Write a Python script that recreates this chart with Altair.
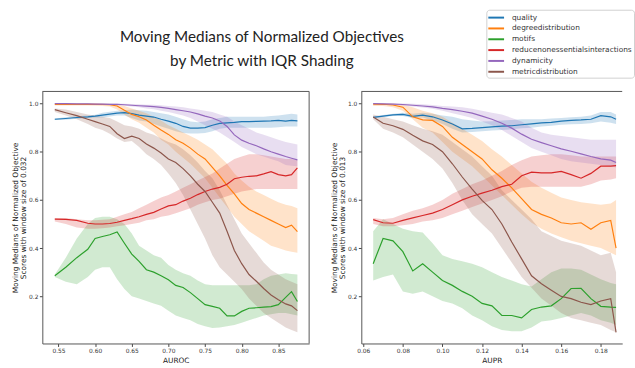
import altair as alt
import pandas as pd

metrics = ["quality", "degreedistribution", "motifs",
           "reducenonessentialsinteractions", "dynamicity", "metricdistribution"]
colors = ["#1f77b4", "#ff7f0e", "#2ca02c", "#d62728", "#9467bd", "#8c564b"]

title_text = "Moving Medians of Normalized Objectives\nby Metric with IQR Shading"

# ---------------- AUROC panel ----------------
auroc_x = [0.545, 0.56, 0.575, 0.59, 0.60, 0.61, 0.62, 0.63, 0.64, 0.65, 0.66, 0.67, 0.68,
           0.69, 0.70, 0.71, 0.72, 0.73, 0.74, 0.75, 0.76, 0.77, 0.78, 0.79, 0.80, 0.81,
           0.82, 0.83, 0.84, 0.85, 0.86, 0.868, 0.876]

auroc_quality_med = [0.935, 0.938, 0.942, 0.945, 0.948, 0.952, 0.956, 0.96, 0.962, 0.958, 0.952, 0.948, 0.944,
                     0.935, 0.927, 0.918, 0.905, 0.898, 0.898, 0.90, 0.91, 0.918, 0.92, 0.922, 0.925, 0.925,
                     0.926, 0.927, 0.928, 0.93, 0.927, 0.93, 0.928]
auroc_quality_lo = [0.932, 0.933, 0.937, 0.94, 0.942, 0.942, 0.946, 0.95, 0.95, 0.94, 0.93, 0.925, 0.915,
                    0.905, 0.895, 0.885, 0.878, 0.876, 0.876, 0.878, 0.885, 0.895, 0.90, 0.90, 0.90, 0.90,
                    0.90, 0.90, 0.90, 0.902, 0.905, 0.905, 0.905]
auroc_quality_hi = [0.938, 0.943, 0.947, 0.95, 0.954, 0.962, 0.966, 0.97, 0.972, 0.975, 0.972, 0.97, 0.965,
                    0.96, 0.955, 0.945, 0.935, 0.925, 0.922, 0.925, 0.935, 0.94, 0.945, 0.945, 0.945, 0.945,
                    0.945, 0.945, 0.948, 0.95, 0.955, 0.958, 0.955]

auroc_degree_med = [0.997, 0.997, 0.997, 0.997, 0.997, 0.996, 0.995, 0.99, 0.972, 0.955, 0.945, 0.932, 0.91,
                    0.89, 0.872, 0.85, 0.835, 0.815, 0.79, 0.77, 0.735, 0.70, 0.66, 0.625, 0.585, 0.56,
                    0.545, 0.53, 0.515, 0.50, 0.485, 0.495, 0.468]
auroc_degree_lo = [0.992, 0.992, 0.992, 0.992, 0.991, 0.99, 0.988, 0.975, 0.955, 0.935, 0.92, 0.90, 0.88,
                   0.85, 0.83, 0.80, 0.775, 0.75, 0.72, 0.69, 0.65, 0.61, 0.57, 0.53, 0.50, 0.47,
                   0.45, 0.43, 0.41, 0.40, 0.39, 0.385, 0.38]
auroc_degree_hi = [1.0, 1.0, 1.0, 1.0, 1.0, 1.0, 0.999, 0.997, 0.99, 0.98, 0.97, 0.96, 0.945,
                   0.93, 0.91, 0.895, 0.88, 0.865, 0.85, 0.83, 0.81, 0.78, 0.75, 0.71, 0.68, 0.655,
                   0.635, 0.62, 0.605, 0.59, 0.58, 0.575, 0.565]

auroc_motifs_med = [0.285, 0.32, 0.36, 0.395, 0.44, 0.448, 0.455, 0.467, 0.42, 0.375, 0.345, 0.31, 0.30,
                    0.285, 0.268, 0.245, 0.236, 0.215, 0.19, 0.165, 0.158, 0.15, 0.118, 0.118, 0.137, 0.15,
                    0.152, 0.155, 0.157, 0.165, 0.195, 0.219, 0.178]
auroc_motifs_lo = [0.28, 0.26, 0.25, 0.28, 0.31, 0.32, 0.32, 0.27, 0.23, 0.20, 0.19, 0.18, 0.17,
                   0.16, 0.14, 0.12, 0.11, 0.10, 0.085, 0.075, 0.068, 0.07, 0.075, 0.08, 0.09, 0.10,
                   0.11, 0.12, 0.125, 0.13, 0.13, 0.125, 0.12]
auroc_motifs_hi = [0.29, 0.36, 0.44, 0.50, 0.525, 0.53, 0.53, 0.52, 0.50, 0.46, 0.41, 0.39, 0.37,
                   0.36, 0.33, 0.31, 0.295, 0.285, 0.265, 0.25, 0.245, 0.245, 0.245, 0.245, 0.245, 0.245,
                   0.25, 0.27, 0.285, 0.29, 0.295, 0.292, 0.29]

auroc_reduce_med = [0.52, 0.519, 0.515, 0.503, 0.50, 0.50, 0.502, 0.507, 0.515, 0.522, 0.53, 0.54, 0.548,
                    0.562, 0.575, 0.58, 0.595, 0.607, 0.622, 0.635, 0.645, 0.652, 0.665, 0.688, 0.694, 0.698,
                    0.70, 0.708, 0.717, 0.705, 0.70, 0.705, 0.733]
auroc_reduce_lo = [0.51, 0.50, 0.485, 0.48, 0.48, 0.482, 0.485, 0.49, 0.495, 0.50, 0.505, 0.515, 0.52,
                   0.53, 0.535, 0.545, 0.555, 0.565, 0.58, 0.59, 0.60, 0.605, 0.615, 0.625, 0.635, 0.64,
                   0.645, 0.645, 0.645, 0.645, 0.645, 0.645, 0.645]
auroc_reduce_hi = [0.525, 0.525, 0.52, 0.515, 0.515, 0.517, 0.52, 0.53, 0.54, 0.55, 0.565, 0.58, 0.595,
                   0.61, 0.62, 0.635, 0.65, 0.665, 0.68, 0.695, 0.71, 0.73, 0.75, 0.77, 0.78, 0.79,
                   0.79, 0.785, 0.78, 0.775, 0.77, 0.77, 0.765]

auroc_dynam_med = [1.0, 1.0, 0.999, 0.999, 0.998, 0.998, 0.997, 0.997, 0.995, 0.993, 0.991, 0.989, 0.987,
                   0.984, 0.98, 0.975, 0.97, 0.965, 0.957, 0.948, 0.94, 0.928, 0.905, 0.87, 0.848, 0.835,
                   0.825, 0.812, 0.80, 0.79, 0.78, 0.773, 0.766]
auroc_dynam_lo = [0.998, 0.998, 0.997, 0.996, 0.995, 0.995, 0.994, 0.993, 0.991, 0.988, 0.985, 0.98, 0.976,
                  0.97, 0.965, 0.958, 0.95, 0.94, 0.925, 0.91, 0.895, 0.88, 0.86, 0.84, 0.82, 0.805,
                  0.79, 0.78, 0.77, 0.76, 0.745, 0.742, 0.74]
auroc_dynam_hi = [1.0, 1.0, 1.0, 1.0, 1.0, 1.0, 1.0, 1.0, 0.999, 0.998, 0.997, 0.995, 0.995,
                  0.993, 0.99, 0.988, 0.985, 0.98, 0.975, 0.97, 0.965, 0.955, 0.945, 0.925, 0.91, 0.895,
                  0.88, 0.87, 0.86, 0.85, 0.84, 0.835, 0.83]

auroc_metric_med = [0.975, 0.962, 0.95, 0.935, 0.925, 0.915, 0.905, 0.875, 0.855, 0.865, 0.855, 0.832, 0.815,
                    0.795, 0.77, 0.755, 0.73, 0.70, 0.665, 0.635, 0.59, 0.545, 0.47, 0.39, 0.335, 0.29,
                    0.262, 0.232, 0.205, 0.185, 0.168, 0.16, 0.14]
auroc_metric_lo = [0.965, 0.95, 0.935, 0.915, 0.90, 0.89, 0.875, 0.855, 0.84, 0.845, 0.82, 0.79, 0.77,
                   0.745, 0.71, 0.67, 0.62, 0.56, 0.50, 0.44, 0.37, 0.32, 0.29, 0.26, 0.23, 0.19,
                   0.16, 0.13, 0.11, 0.09, 0.07, 0.06, 0.05]
auroc_metric_hi = [0.98, 0.975, 0.965, 0.955, 0.95, 0.945, 0.94, 0.925, 0.91, 0.905, 0.895, 0.88, 0.87,
                   0.855, 0.84, 0.83, 0.81, 0.785, 0.755, 0.72, 0.69, 0.64, 0.58, 0.52, 0.46, 0.42,
                   0.38, 0.34, 0.31, 0.29, 0.27, 0.26, 0.25]

# ---------------- AUPR panel ----------------
aupr_x = [0.065, 0.07, 0.075, 0.08, 0.085, 0.09, 0.095, 0.10, 0.105, 0.11, 0.115, 0.12, 0.125,
          0.13, 0.135, 0.14, 0.145, 0.15, 0.155, 0.16, 0.165, 0.17, 0.175, 0.18, 0.185, 0.1877]

aupr_quality_med = [0.943, 0.948, 0.953, 0.955, 0.947, 0.952, 0.945, 0.932, 0.915, 0.895, 0.897, 0.90, 0.903,
                    0.906, 0.908, 0.912, 0.916, 0.92, 0.922, 0.927, 0.93, 0.932, 0.935, 0.95, 0.945, 0.935]
aupr_quality_lo = [0.94, 0.944, 0.948, 0.948, 0.94, 0.942, 0.93, 0.915, 0.895, 0.88, 0.882, 0.885, 0.888,
                   0.89, 0.893, 0.897, 0.90, 0.905, 0.908, 0.912, 0.914, 0.915, 0.918, 0.925, 0.92, 0.915]
aupr_quality_hi = [0.946, 0.952, 0.958, 0.962, 0.958, 0.962, 0.958, 0.95, 0.945, 0.935, 0.93, 0.925, 0.927,
                   0.93, 0.932, 0.935, 0.935, 0.935, 0.938, 0.94, 0.943, 0.945, 0.95, 0.965, 0.965, 0.955]

aupr_degree_med = [0.998, 0.997, 0.994, 0.985, 0.945, 0.932, 0.93, 0.905, 0.86, 0.83, 0.80, 0.77, 0.725,
                   0.69, 0.65, 0.605, 0.56, 0.54, 0.525, 0.505, 0.50, 0.505, 0.478, 0.505, 0.515, 0.40]
aupr_degree_lo = [0.99, 0.99, 0.985, 0.97, 0.935, 0.90, 0.88, 0.84, 0.80, 0.77, 0.74, 0.70, 0.66,
                  0.62, 0.58, 0.54, 0.505, 0.48, 0.46, 0.445, 0.43, 0.42, 0.41, 0.40, 0.38, 0.37]
aupr_degree_hi = [1.0, 1.0, 1.0, 0.995, 0.985, 0.97, 0.96, 0.945, 0.92, 0.895, 0.87, 0.845, 0.81,
                  0.78, 0.745, 0.71, 0.675, 0.65, 0.63, 0.61, 0.60, 0.59, 0.585, 0.58, 0.585, 0.60]

aupr_motifs_med = [0.335, 0.44, 0.43, 0.385, 0.305, 0.335, 0.30, 0.265, 0.245, 0.22, 0.20, 0.17, 0.16,
                   0.12, 0.12, 0.11, 0.145, 0.155, 0.16, 0.19, 0.232, 0.233, 0.19, 0.158, 0.155, 0.154]
aupr_motifs_lo = [0.265, 0.28, 0.29, 0.22, 0.21, 0.22, 0.20, 0.18, 0.17, 0.15, 0.12, 0.10, 0.075,
                  0.06, 0.055, 0.055, 0.07, 0.095, 0.10, 0.11, 0.12, 0.13, 0.12, 0.10, 0.09, 0.08]
aupr_motifs_hi = [0.47, 0.52, 0.50, 0.48, 0.47, 0.465, 0.42, 0.37, 0.355, 0.345, 0.335, 0.32, 0.30,
                  0.28, 0.265, 0.25, 0.24, 0.27, 0.30, 0.315, 0.315, 0.31, 0.29, 0.27, 0.255, 0.25]

aupr_reduce_med = [0.518, 0.505, 0.503, 0.515, 0.525, 0.535, 0.545, 0.56, 0.58, 0.60, 0.615, 0.628, 0.64,
                   0.655, 0.665, 0.70, 0.715, 0.712, 0.712, 0.718, 0.705, 0.69, 0.71, 0.74, 0.74, 0.742]
aupr_reduce_lo = [0.50, 0.49, 0.49, 0.495, 0.50, 0.51, 0.515, 0.525, 0.54, 0.555, 0.57, 0.585, 0.60,
                  0.615, 0.635, 0.65, 0.655, 0.655, 0.655, 0.655, 0.655, 0.655, 0.665, 0.68, 0.685, 0.69]
aupr_reduce_hi = [0.525, 0.52, 0.525, 0.54, 0.555, 0.565, 0.58, 0.60, 0.625, 0.645, 0.665, 0.68, 0.70,
                  0.72, 0.745, 0.765, 0.78, 0.785, 0.79, 0.79, 0.785, 0.78, 0.78, 0.78, 0.78, 0.78]

aupr_dynam_med = [1.0, 0.999, 0.998, 0.996, 0.993, 0.99, 0.986, 0.98, 0.975, 0.968, 0.96, 0.948, 0.935,
                  0.918, 0.898, 0.873, 0.852, 0.838, 0.825, 0.812, 0.802, 0.791, 0.78, 0.77, 0.765, 0.755]
aupr_dynam_lo = [0.998, 0.997, 0.995, 0.992, 0.988, 0.984, 0.978, 0.97, 0.96, 0.95, 0.94, 0.925, 0.91,
                 0.89, 0.865, 0.84, 0.815, 0.80, 0.785, 0.77, 0.76, 0.755, 0.75, 0.745, 0.74, 0.735]
aupr_dynam_hi = [1.0, 1.0, 1.0, 1.0, 0.999, 0.997, 0.994, 0.99, 0.988, 0.985, 0.978, 0.97, 0.962,
                 0.955, 0.94, 0.925, 0.90, 0.88, 0.87, 0.865, 0.86, 0.855, 0.85, 0.85, 0.85, 0.85]

aupr_metric_med = [0.944, 0.918, 0.908, 0.893, 0.868, 0.845, 0.83, 0.80, 0.75, 0.695, 0.645, 0.598, 0.56,
                   0.50, 0.425, 0.355, 0.285, 0.252, 0.225, 0.199, 0.19, 0.175, 0.165, 0.18, 0.19, 0.05]
aupr_metric_lo = [0.935, 0.895, 0.88, 0.86, 0.83, 0.80, 0.77, 0.73, 0.67, 0.60, 0.54, 0.50, 0.46,
                  0.40, 0.34, 0.28, 0.235, 0.19, 0.16, 0.13, 0.11, 0.10, 0.09, 0.08, 0.06, 0.05]
aupr_metric_hi = [0.955, 0.945, 0.935, 0.925, 0.91, 0.895, 0.885, 0.87, 0.84, 0.81, 0.78, 0.74, 0.70,
                  0.64, 0.60, 0.56, 0.52, 0.47, 0.45, 0.43, 0.42, 0.41, 0.39, 0.37, 0.38, 0.30]

auroc_series = [
    (auroc_quality_med, auroc_quality_lo, auroc_quality_hi),
    (auroc_degree_med, auroc_degree_lo, auroc_degree_hi),
    (auroc_motifs_med, auroc_motifs_lo, auroc_motifs_hi),
    (auroc_reduce_med, auroc_reduce_lo, auroc_reduce_hi),
    (auroc_dynam_med, auroc_dynam_lo, auroc_dynam_hi),
    (auroc_metric_med, auroc_metric_lo, auroc_metric_hi),
]
aupr_series = [
    (aupr_quality_med, aupr_quality_lo, aupr_quality_hi),
    (aupr_degree_med, aupr_degree_lo, aupr_degree_hi),
    (aupr_motifs_med, aupr_motifs_lo, aupr_motifs_hi),
    (aupr_reduce_med, aupr_reduce_lo, aupr_reduce_hi),
    (aupr_dynam_med, aupr_dynam_lo, aupr_dynam_hi),
    (aupr_metric_med, aupr_metric_lo, aupr_metric_hi),
]


def build_df(xs, series):
    rows = []
    for k, (name, (med, lo, hi)) in enumerate(zip(metrics, series)):
        for x, m, l, h in zip(xs, med, lo, hi):
            rows.append({"x": x, "metric": name, "k": k, "med": m, "lo": l, "hi": h})
    return pd.DataFrame(rows)


FONT = "DejaVu Sans"
color_scale = alt.Scale(domain=metrics, range=colors)
LEGEND = alt.Legend(title=None, orient="none", legendX=451, legendY=-83,
                    symbolType="M-1.6,0H1.6", symbolStrokeWidth=2, symbolSize=100,
                    symbolOpacity=1, symbolOffset=2, labelOffset=10,
                    labelFont=FONT, labelFontSize=7.5, labelColor="#333",
                    labelLimit=400, padding=2, rowPadding=1,
                    strokeColor="#d0d0d0", fillColor="white", cornerRadius=3)
Y_DOMAIN = [0.0037, 1.0503]
Y_TICKS = [0.2, 0.4, 0.6, 0.8, 1.0]
H = 256


def panel(df, xdom, xticks, xfmt, xtitle, ytitle, width, full_frame):
    xenc = alt.X("x:Q", title=xtitle,
                 scale=alt.Scale(domain=xdom, nice=False, zero=False),
                 axis=alt.Axis(values=xticks, format=xfmt, titleY=19,
                               titleBaseline="alphabetic"))
    yscale = alt.Scale(domain=Y_DOMAIN, nice=False, zero=False)
    cenc = alt.Color("metric:N", scale=color_scale, legend=LEGEND, sort=metrics)
    base = alt.Chart(df)
    band = base.mark_area(opacity=0.22, interpolate="linear").encode(
        x=xenc,
        y=alt.Y("lo:Q", scale=yscale, title=ytitle,
                axis=alt.Axis(values=Y_TICKS, format=".1f", titleX=-25.5,
                              titleBaseline="alphabetic")),
        y2="hi:Q",
        color=cenc,
    )
    line = base.mark_line(strokeWidth=1.2).encode(
        x=xenc,
        y=alt.Y("med:Q", scale=yscale),
        color=cenc,
        order="x:Q",
    )
    one = alt.Chart(pd.DataFrame({"a": [0]}))
    frame_top = one.mark_rule(color="#555", strokeWidth=1).encode(
        x=alt.value(0), x2=alt.value(width), y=alt.value(0))
    layers = [band, line, frame_top]
    if full_frame:
        frame_right = one.mark_rule(color="#555", strokeWidth=1).encode(
            x=alt.value(width), y=alt.value(0), y2=alt.value(H))
        layers.append(frame_right)
    return alt.layer(*layers).properties(width=width, height=H)


left = panel(build_df(auroc_x, auroc_series), [0.528, 0.892],
             [0.55, 0.60, 0.65, 0.70, 0.75, 0.80, 0.85], ".2f", "AUROC",
             ["Moving Medians of Normalized Objective", "Scores with window size of 0.032"],
             271, True)

title_layer = alt.Chart(pd.DataFrame({"t": [title_text]})).mark_text(
    align="center", baseline="alphabetic", font="Lato", fontSize=15.5,
    lineHeight=24, lineBreak="\n", color="#222"
).encode(x=alt.value(223), y=alt.value(-50), text="t:N")

left = alt.layer(left, title_layer)

right = panel(build_df(aupr_x, aupr_series), [0.059, 0.1908],
              [0.06, 0.08, 0.10, 0.12, 0.14, 0.16, 0.18], ".2f", "AUPR",
              ["Moving Medians of Normalized Objective", "Scores with window size of 0.013"],
              265, False)

chart = alt.hconcat(left, right, spacing=53, bounds="flush").properties(
    padding={"left": 11, "top": 6, "right": 0, "bottom": 0}
).configure_view(stroke=None).configure_axis(
    grid=False, labelFont=FONT, titleFont=FONT, labelFontSize=6, titleFontSize=7.5,
    titleFontWeight="normal", labelColor="#333", titleColor="#222",
    tickColor="#444", tickSize=3, labelPadding=1.5, titlePadding=2,
    domainColor="#555", domainWidth=1, titleLineHeight=8.5
)

chart.save("out.html", embed_options={"renderer": "svg", "actions": False})
